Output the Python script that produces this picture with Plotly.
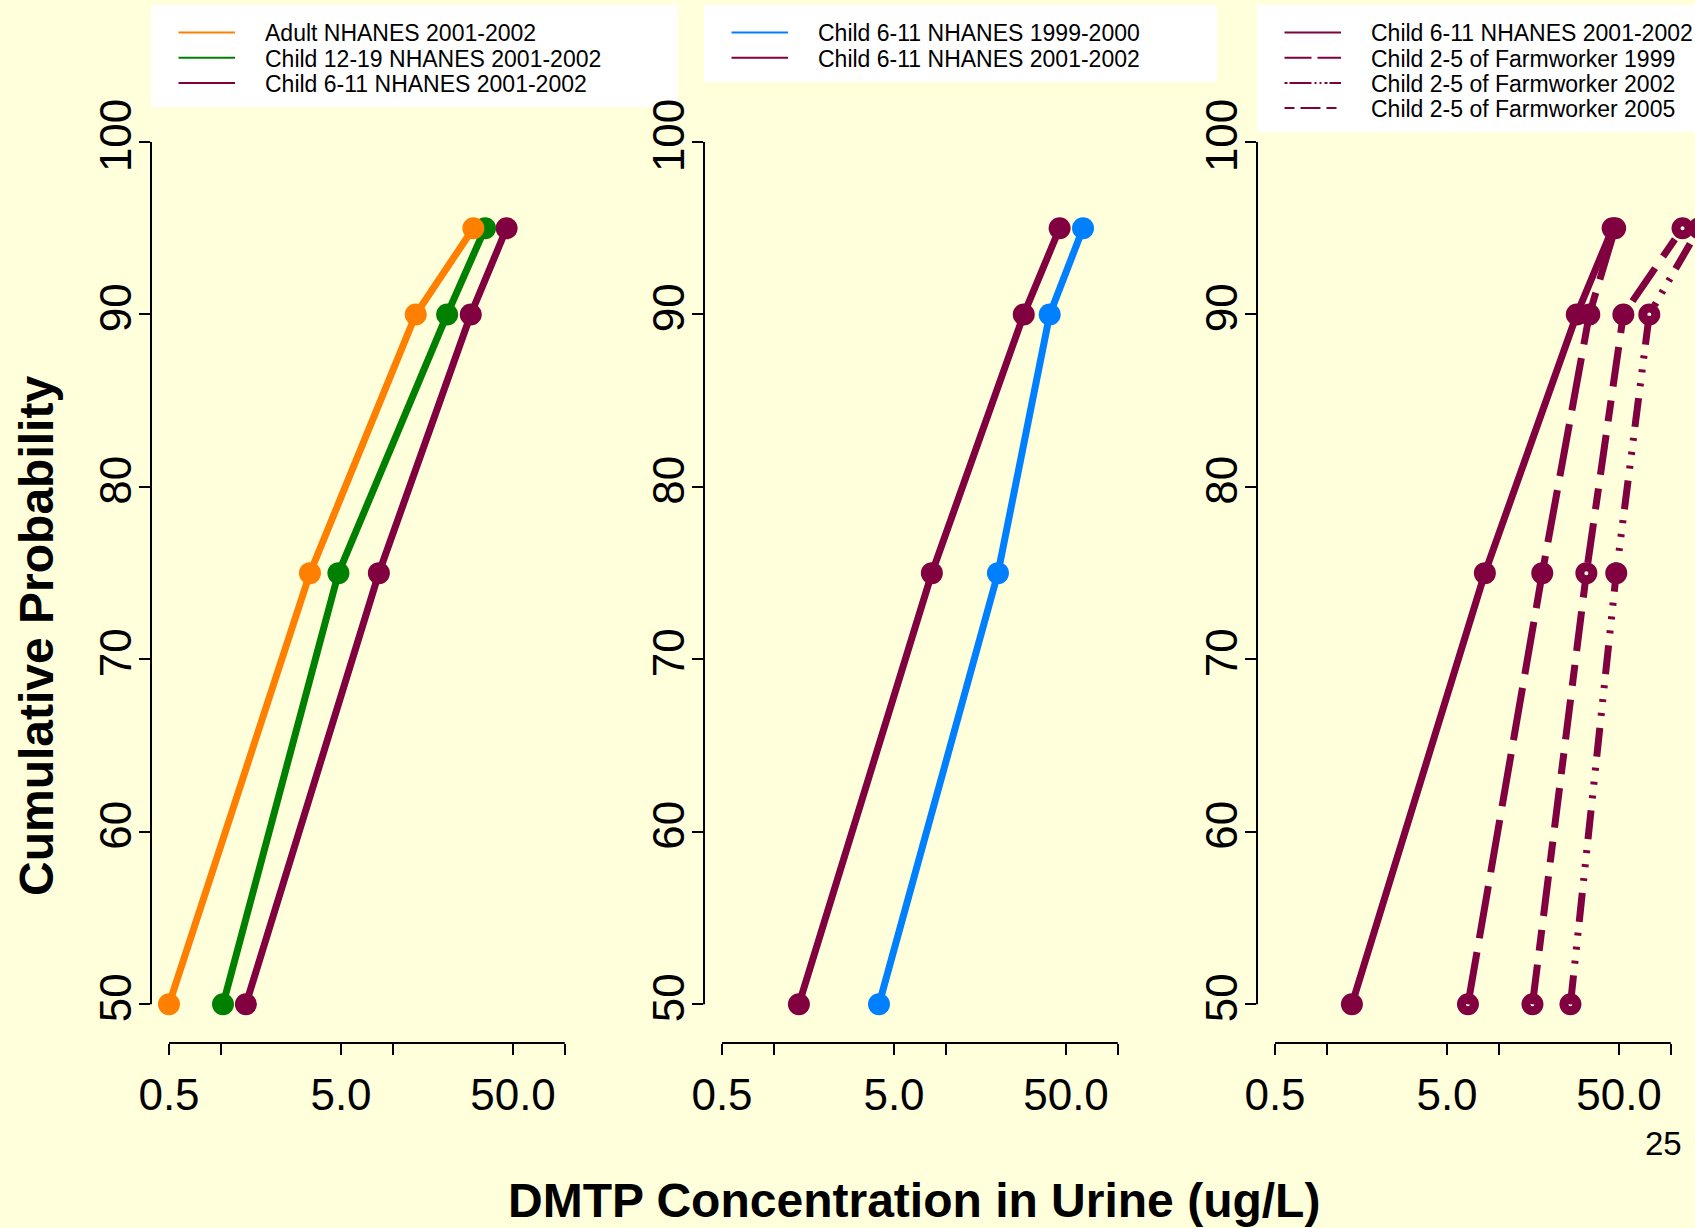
import math
import plotly.graph_objects as go

# ---------------- data ----------------
probs = [50, 75, 90, 95]

adult_nhanes_0102 = [0.50, 3.30, 13.6, 29.4]
child1219_nhanes_0102 = [1.03, 4.83, 20.7, 34.4]
child611_nhanes_0102 = [1.40, 8.30, 28.4, 45.9]
child611_nhanes_9900 = [4.09, 20.1, 40.2, 62.8]
farm_child25_1999 = [6.62, 17.9, 33.6, 47.5]
farm_child25_2002 = [26.1, 48.2, 75.0, 146.0]
farm_child25_2005 = [15.7, 32.3, 53.0, 117.0]

x_tickvals = [0.5, 1, 5, 10, 50, 100]
x_ticktext = ["0.5", "", "5.0", "", "50.0", ""]
y_tickvals = [50, 60, 70, 80, 90, 100]

ORANGE = "#FF8000"
GREEN = "#008000"
MAROON = "#800040"
BLUE = "#0080FF"
BG = "#FFFFDC"

# name, values, color, plot dash, legend dash, open marker
panels = [
    [
        ("Adult NHANES 2001-2002", adult_nhanes_0102, ORANGE, "solid", "solid", False),
        ("Child 12-19 NHANES 2001-2002", child1219_nhanes_0102, GREEN, "solid", "solid", False),
        ("Child 6-11 NHANES 2001-2002", child611_nhanes_0102, MAROON, "solid", "solid", False),
    ],
    [
        ("Child 6-11 NHANES 1999-2000", child611_nhanes_9900, BLUE, "solid", "solid", False),
        ("Child 6-11 NHANES 2001-2002", child611_nhanes_0102, MAROON, "solid", "solid", False),
    ],
    [
        ("Child 6-11 NHANES 2001-2002", child611_nhanes_0102, MAROON, "solid", "solid", False),
        ("Child 2-5 of Farmworker 1999", farm_child25_1999, MAROON, "53px,14px", "27px,6px", True),
        ("Child 2-5 of Farmworker 2002", farm_child25_2002, MAROON,
         "29px,12px,3px,11px,3px,11px,3px,11px", "3px,2px,22px,3px,2px,3px,2px,3px", True),
        ("Child 2-5 of Farmworker 2005", farm_child25_2005, MAROON,
         "40px,14px,21px,14px", "10px,6px,20px,6px", True),
    ],
]
# drawing order inside each panel (later = on top)
draw_order = [[2, 1, 0], [0, 1], [0, 1, 2, 3]]

# ---------------- layout geometry (pixels) ----------------
W, H = 1695, 1228
PANEL_LEFT = [151, 704, 1257]
LEGEND_W = [527, 513, 440]
PANEL_W = 483
DECADE_PX = 172.0
PAD_PX = 18.0
PLOT_TOP, PLOT_BOTTOM = 103, 1043
Y50_PX, Y100_PX = 1004.3, 142.0
FONT = "Liberation Sans, Arial, sans-serif"


def fx(px):
    return px / W


def fy(py):
    return 1 - py / H


px_per_unit = (Y50_PX - Y100_PX) / 50.0
y_range = [50 - (PLOT_BOTTOM - Y50_PX) / px_per_unit, 100 + (Y100_PX - PLOT_TOP) / px_per_unit]

fig = go.Figure()
shapes = []
annotations = []

for i, series in enumerate(panels):
    sfx = "" if i == 0 else str(i + 1)
    xa, ya = "x" + sfx, "y" + sfx
    left = PANEL_LEFT[i]
    right = min(left + PANEL_W, W)
    r0 = math.log10(x_tickvals[0]) - PAD_PX / DECADE_PX
    r1 = r0 + (right - left) / DECADE_PX
    common = dict(showgrid=False, zeroline=False, showline=False, ticks="outside",
                  ticklen=11, tickwidth=2, tickcolor="black", automargin=False,
                  tickfont=dict(family=FONT, size=44, color="black"))
    fig.update_layout(**{
        "xaxis" + sfx: dict(type="log", domain=[fx(left), fx(right)], range=[r0, r1],
                           anchor=ya, tickvals=x_tickvals, ticktext=x_ticktext,
                           ticklabelstandoff=2, **common),
        "yaxis" + sfx: dict(domain=[fy(PLOT_BOTTOM), fy(PLOT_TOP)], range=y_range,
                           anchor=xa, tickvals=y_tickvals, tickangle=-90,
                           ticklabelstandoff=-10, **common),
    })
    # R-style axis lines spanning first..last tick
    shapes.append(dict(type="line", xref=xa, yref=ya + " domain", x0=x_tickvals[0], x1=x_tickvals[-1],
                       y0=0, y1=0, line=dict(color="black", width=2)))
    shapes.append(dict(type="line", xref=xa + " domain", yref=ya, x0=0, x1=0,
                       y0=y_tickvals[0], y1=y_tickvals[-1], line=dict(color="black", width=2)))

    for k in draw_order[i]:
        name, vals, color, dash, _, open_m = series[k]
        if open_m:
            marker = dict(symbol="circle-open", size=13, color=color, line=dict(width=9, color=color))
        else:
            marker = dict(symbol="circle", size=22, color=color)
        fig.add_trace(go.Scatter(x=vals, y=probs, mode="lines+markers", name=name,
                                 line=dict(color=color, width=7, dash=dash),
                                 marker=marker, xaxis=xa, yaxis=ya, showlegend=False))

    # R-style legend box
    n = len(series)
    row0, row_step = 32.5, 25.2
    shapes.append(dict(type="rect", xref="paper", yref="paper", x0=fx(left),
                       x1=fx(min(left + LEGEND_W[i], W)),
                       y0=fy(5), y1=fy(row0 + (n - 1) * row_step + 24), fillcolor="white",
                       line=dict(width=0), layer="below"))
    for k, (name, vals, color, dash, ldash, open_m) in enumerate(series):
        yy = row0 + k * row_step
        shapes.append(dict(type="line", xref="paper", yref="paper", x0=fx(left + 27.5), x1=fx(left + 84),
                           y0=fy(yy), y1=fy(yy), line=dict(color=color, width=2, dash=ldash), layer="below"))
        annotations.append(dict(xref="paper", yref="paper", x=fx(left + 112), y=fy(yy + 1),
                                xanchor="left", yanchor="middle", text=name, showarrow=False,
                                font=dict(family=FONT, size=23, color="black")))

annotations.append(dict(xref="paper", yref="paper", x=fx(36), y=fy(636), textangle=-90,
                        xanchor="center", yanchor="middle", showarrow=False,
                        text="<b>Cumulative Probability</b>",
                        font=dict(family=FONT, size=48, color="black")))
annotations.append(dict(xref="paper", yref="paper", x=fx(914), y=fy(1200),
                        xanchor="center", yanchor="middle", showarrow=False,
                        text="<b>DMTP Concentration in Urine (ug/L)</b>",
                        font=dict(family=FONT, size=48, color="black")))
annotations.append(dict(xref="paper", yref="paper", x=fx(1663), y=fy(1143),
                        xanchor="center", yanchor="middle", showarrow=False, text="25",
                        font=dict(family=FONT, size=33, color="black")))

fig.update_layout(width=W, height=H, margin=dict(l=0, r=0, t=0, b=0, autoexpand=False),
                  paper_bgcolor=BG, plot_bgcolor="rgba(0,0,0,0)", showlegend=False,
                  shapes=shapes, annotations=annotations)

fig.write_html("out.html", config={"displayModeBar": False},
               post_script="document.body.style.margin='0';document.body.style.overflow='hidden';")
